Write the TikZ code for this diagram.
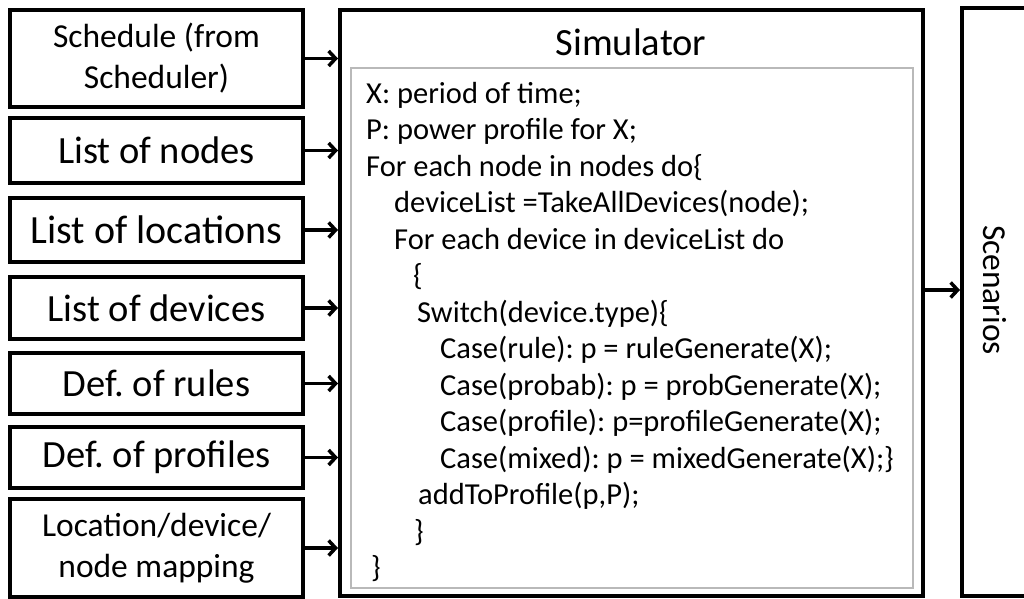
\documentclass[tikz,border=0pt]{standalone}
\usepackage{fontspec}
\setmainfont{Carlito}
\usetikzlibrary{arrows.meta}
\frenchspacing

\tikzset{
  inbox/.style={draw, line width=4pt, minimum width=293pt, inner sep=0pt, align=center, font=\fontsize{38.5}{44}\selectfont},
  twoline/.style={font=\fontsize{33.5}{41}\selectfont},
  codeline/.style={anchor=base west, inner sep=0pt, font=\fontsize{30.5}{36}\selectfont},
  feed/.style={-{Straight Barb[length=7pt,width=15pt]}, line width=3.5pt},
}

\begin{document}
\begin{tikzpicture}[x=1pt,y=-1pt]
  \useasboundingbox (0,0) rectangle (1024,598);
  \clip (0,0) rectangle (1024,598);

  % inputs
  \node[inbox, twoline, minimum height=97pt] at (156.5,58.5) (sched) {Schedule (from\\Scheduler)};
  \node[inbox, minimum height=65pt] at (156.5,150.5) (nodes) {List of nodes};
  \node[inbox, minimum height=64pt, font=\fontsize{40}{44}\selectfont] at (156.5,230) (locs) {List of locations};
  \node[inbox, minimum height=62pt] at (156.5,308) (devs) {List of devices};
  \node[inbox, minimum height=61pt] at (156.5,383.5) (rules) {Def. of rules};
  \node[inbox, minimum height=61pt] at (156.5,457.5) (profs) {Def. of profiles};
  \node[inbox, twoline, minimum height=98pt] at (156.5,548) (mapping) {Location/device/\\node mapping};

  % simulator
  \node[draw, line width=4pt, minimum width=583pt, minimum height=586pt] at (631.5,303) (sim) {};
  \node[font=\fontsize{38.5}{44}\selectfont] at (631,42) (simlbl) {Simulator};
  \node[draw=gray!55, line width=1.6pt, minimum width=562pt, minimum height=520pt] at (632,328) (code) {};

  \node[codeline] at (366,103) (c1) {X: period of time;};
  \node[codeline] at (366,139.5) (c2) {P: power profile for X;};
  \node[codeline] at (366,176) (c3) {For each node in nodes do\{};
  \node[codeline] at (394,212.5) (c4) {deviceList =TakeAllDevices(node);};
  \node[codeline] at (394,249) (c5) {For each device in deviceList do};
  \node[codeline] at (413,285.5) (c6) {\{};
  \node[codeline] at (417,322) (c7) {Switch(device.type)\{};
  \node[codeline] at (440,358.5) (c8) {Case(rule): p = ruleGenerate(X);};
  \node[codeline] at (440,395) (c9) {Case(probab): p = probGenerate(X);};
  \node[codeline] at (440,431.5) (c10) {Case(profile): p=profileGenerate(X);};
  \node[codeline] at (440,468) (c11) {Case(mixed): p = mixedGenerate(X);\}};
  \node[codeline] at (418,504.5) (c12) {addToProfile(p,P);};
  \node[codeline] at (414,541) (c13) {\}};
  \node[codeline] at (371,577.5) (c14) {\}};

  % output
  \node[draw, line width=4pt, minimum width=100pt, minimum height=588pt] at (1012,302) (scen) {};
  \node[rotate=-90, font=\fontsize{33.5}{38}\selectfont] at (995,290) (scenlbl) {Scenarios};

  \draw[feed] (sched.east) -- (sched.east -| sim.west);
  \draw[feed] (nodes.east) -- (nodes.east -| sim.west);
  \draw[feed] (locs.east) -- (locs.east -| sim.west);
  \draw[feed] (devs.east) -- (devs.east -| sim.west);
  \draw[feed] (rules.east) -- (rules.east -| sim.west);
  \draw[feed] (profs.east) -- (profs.east -| sim.west);
  \draw[feed] (mapping.east) -- (mapping.east -| sim.west);
  \draw[feed] ([yshift=13pt]sim.east) -- ([yshift=13pt]sim.east -| scen.west);
\end{tikzpicture}
\end{document}
